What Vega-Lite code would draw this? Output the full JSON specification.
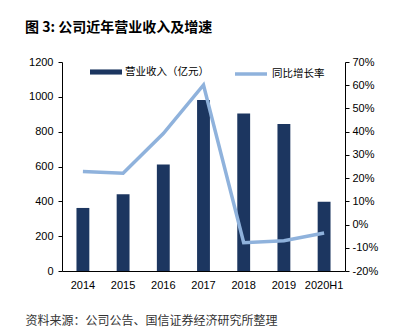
{
  "$schema": "https://vega.github.io/schema/vega-lite/v6.json",
  "width": 283,
  "height": 209,
  "padding": {"left": 25, "top": 21, "right": 5, "bottom": 5},
  "background": "white",
  "title": {
    "text": "图 3: 公司近年营业收入及增速",
    "anchor": "start",
    "frame": "bounds",
    "font": "Noto Sans CJK SC",
    "fontSize": 14,
    "fontWeight": "bold",
    "color": "#000000",
    "offset": 21
  },
  "config": {
    "view": {"stroke": null},
    "axis": {
      "grid": false,
      "domainColor": "#000000",
      "tickColor": "#000000",
      "labelColor": "#000000",
      "labelFont": "Liberation Sans",
      "labelFontSize": 11,
      "tickSize": 4
    }
  },
  "data": {
    "values": [
      {"year": "2014", "revenue": 362, "growth": 0.228},
      {"year": "2015", "revenue": 440, "growth": 0.221},
      {"year": "2016", "revenue": 612, "growth": 0.392},
      {"year": "2017", "revenue": 982, "growth": 0.601},
      {"year": "2018", "revenue": 905, "growth": -0.078},
      {"year": "2019", "revenue": 844, "growth": -0.07},
      {"year": "2020H1", "revenue": 398, "growth": -0.036}
    ]
  },
  "encoding": {
    "x": {
      "field": "year",
      "type": "ordinal",
      "sort": null,
      "scale": {"paddingInner": 0.68, "paddingOuter": 0.36},
      "axis": {
        "title": "资料来源：公司公告、国信证券经济研究所整理",
        "labelAngle": 0,
        "ticks": false,
        "tickSize": 0,
        "labelPadding": 8,
        "titleFont": "Noto Sans CJK SC",
        "titleFontSize": 12,
        "titleFontWeight": "normal",
        "titleColor": "#333333",
        "titleAnchor": "start",
        "titleAlign": "left",
        "titleBaseline": "middle",
        "titleX": -37,
        "titleY": 49
      }
    }
  },
  "layer": [
    {
      "mark": {"type": "bar"},
      "encoding": {
        "y": {
          "field": "revenue",
          "type": "quantitative",
          "scale": {"domain": [0, 1200], "nice": false},
          "axis": {"title": null, "format": "d", "values": [0, 200, 400, 600, 800, 1000, 1200], "labelPadding": 5}
        },
        "fill": {
          "datum": "营业收入（亿元）",
          "scale": {"range": ["#1c3660"]},
          "legend": {
            "title": null,
            "orient": "none",
            "legendX": 28,
            "legendY": -6,
            "padding": 0,
            "symbolType": "M-1,-0.16H1V0.16H-1Z",
            "symbolSize": 1024,
            "symbolStrokeWidth": 0,
            "labelFont": "Noto Sans CJK SC",
            "labelFontSize": 10.5,
            "labelColor": "#000000",
            "labelOffset": 3
          }
        }
      }
    },
    {
      "mark": {"type": "line", "strokeWidth": 3.5},
      "encoding": {
        "y": {
          "field": "growth",
          "type": "quantitative",
          "scale": {"domain": [-0.2, 0.7], "nice": false},
          "axis": {
            "title": null,
            "orient": "right",
            "values": [-0.2, -0.1, 0, 0.1, 0.2, 0.3, 0.4, 0.5, 0.6, 0.7],
            "labelExpr": "replace(format(datum.value, '.0%'), '−', '-')",
            "labelPadding": 3
          }
        },
        "stroke": {
          "datum": "同比增长率",
          "scale": {"range": ["#8fb2dc"]},
          "legend": {
            "title": null,
            "orient": "none",
            "legendX": 171,
            "legendY": -6,
            "padding": 0,
            "symbolType": "stroke",
            "symbolSize": 1024,
            "symbolStrokeWidth": 3.5,
            "labelFont": "Noto Sans CJK SC",
            "labelFontSize": 10.5,
            "labelColor": "#000000",
            "labelOffset": 3
          }
        }
      }
    }
  ],
  "resolve": {"scale": {"y": "independent"}}
}
